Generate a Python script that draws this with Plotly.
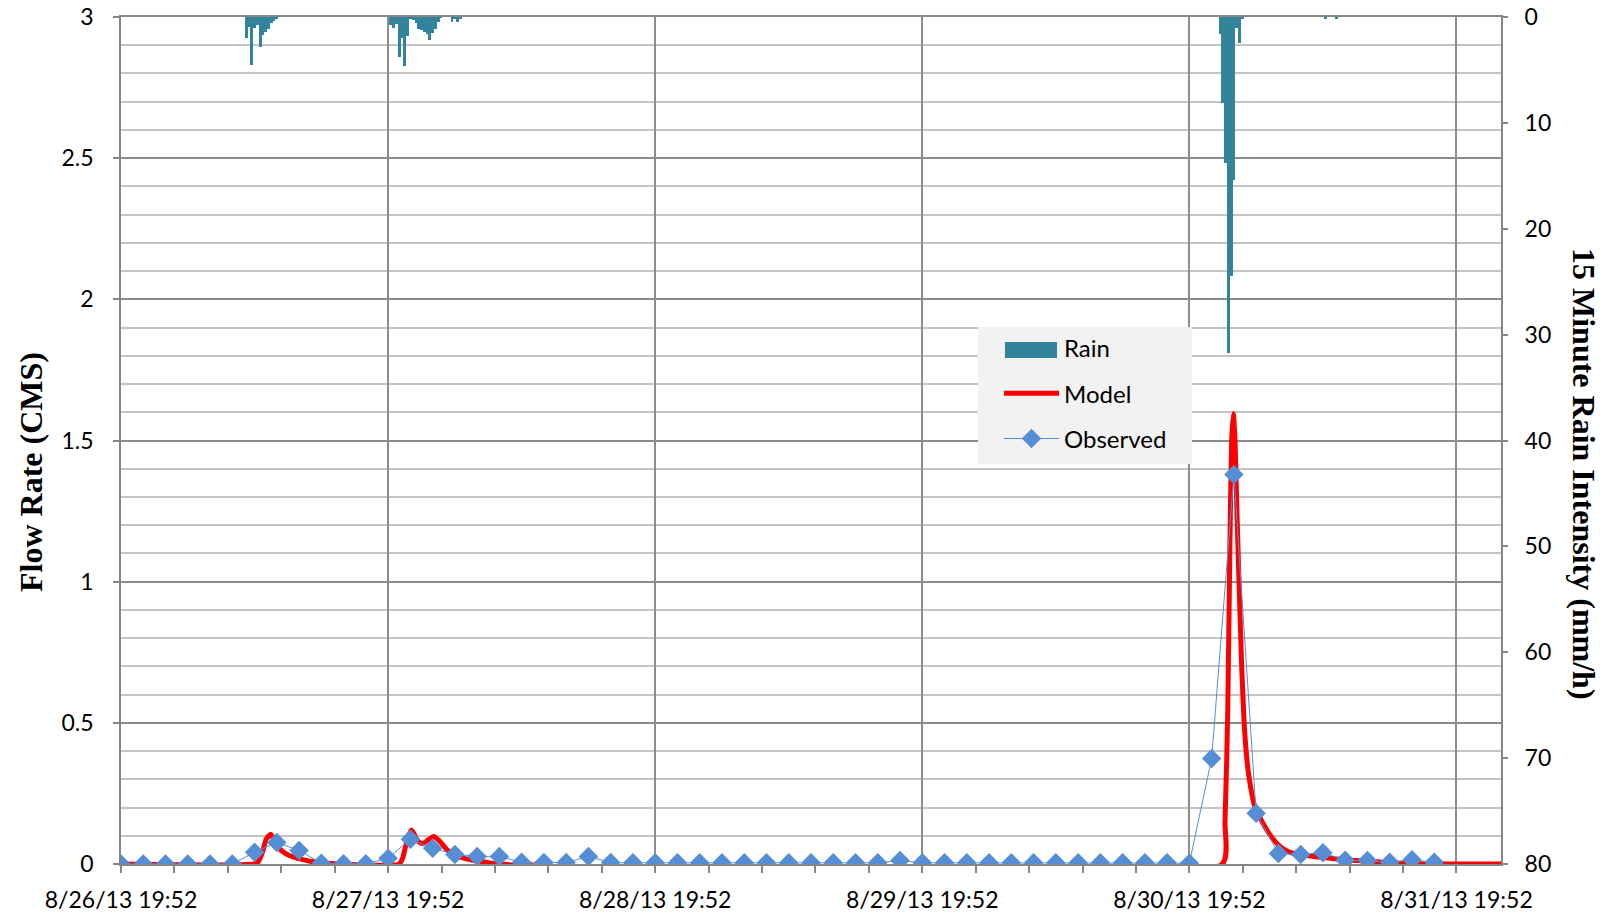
import plotly.graph_objects as go
from datetime import datetime, timedelta

# ---------------- data ----------------
start = datetime(2013, 8, 26, 19, 52)
span_hours = 124

# Observed flow (CMS), one sample every 2 hours from the start
obs_step_h = 2
obs_flow = [0, 0, 0, 0, 0, 0, 0.042, 0.076, 0.048, 0.003,
            0.001, 0.001, 0.02, 0.088, 0.056, 0.034, 0.027, 0.027, 0.006, 0.005,
            0.005, 0.027, 0.005, 0.004, 0.004, 0.004, 0.004, 0.004, 0.004, 0.004,
            0.004, 0.004, 0.004, 0.004, 0.004, 0.012, 0.004, 0.004, 0.004, 0.004,
            0.004, 0.004, 0.004, 0.004, 0.004, 0.004, 0.004, 0.004, 0.003, 0.374,
            1.38, 0.18, 0.037, 0.034, 0.04, 0.013, 0.012, 0.006, 0.015, 0.006]

# Modelled flow (CMS): hours after start, value
model_hours = [0, 12.0, 12.3, 12.7, 13.05, 13.45, 13.8, 14.2, 14.8, 15.4, 16.1, 17.0, 18.4, 19.8,
               25.0, 25.3, 25.75, 26.1, 26.7, 27.1, 27.6, 28.1, 28.7, 29.3, 30.1, 31.0, 31.9, 32.8, 33.8,
               98.95, 99.2, 99.45, 99.63, 99.8, 99.95, 100.1, 100.27, 100.5, 100.7, 101.0, 101.35,
               101.9, 102.4, 103.3, 104.2, 105.1, 106.9, 108.7, 110.5, 112.3, 113.7, 115.2, 124]
model_flow = [0, 0, 0.006, 0.04, 0.088, 0.105, 0.085, 0.055, 0.037, 0.026, 0.018, 0.01, 0.004, 0,
              0, 0.02, 0.09, 0.12, 0.08, 0.073, 0.085, 0.097, 0.078, 0.05, 0.03, 0.018, 0.012, 0.006, 0,
              0, 0.15, 0.55, 1.1, 1.5, 1.595, 1.5, 1.25, 0.95, 0.7, 0.45, 0.31,
              0.2, 0.16, 0.1, 0.06, 0.04, 0.028, 0.02, 0.013, 0.01, 0.005, 0.002, 0]

# 15-minute rain intensity (mm/h), events given as start hour + consecutive values
rain_step_min = 15
rain_events = [
    (11.25, [1.94, 0.93, 4.55, 1.0, 0.8, 2.88, 1.72, 1.4, 1.09, 0.61, 0.36, 0.14]),
    (24.25, [0.8, 1.0, 0.65, 3.77, 2.03, 4.65, 1.8, 0.14, 0.3, 0.55, 1.1, 1.2, 1.4, 1.6,
             2.2, 1.55, 1.1, 0.45, 0.05, 0, 0, 0, 0.45, 0.14, 0.45, 0.2]),
    (98.75, [1.65, 8.1, 13.8, 31.7, 24.5, 15.4, 1.0, 2.44, 0.1]),
    (108.25, [0.15]),
    (109.25, [0.12]),
]

y_ticks_left = [0, 0.5, 1, 1.5, 2, 2.5, 3]
y_ticks_right = [0, 10, 20, 30, 40, 50, 60, 70, 80]

# ---------------- build ----------------
def t(h):
    return start + timedelta(hours=h)

obs_x = [t(i * obs_step_h) for i in range(len(obs_flow))]
model_x = [t(h) for h in model_hours]
rain_x, rain_y = [], []
for h0, vals in rain_events:
    for k, v in enumerate(vals):
        rain_x.append(t(h0 + k * rain_step_min / 60))
        rain_y.append(v)

RAIN_C = '#31849b'
OBS_C = '#558ed5'
SANS = 'Lato, Open Sans, sans-serif'
TICK_FONT = dict(family=SANS, size=23, color='black')

# the page's body margin is removed (post_script), so figure == window
W, H = 1616, 922
ML, MR, MT, MB = 121, 115, 17, 58
PW, PH = W - ML - MR, H - MT - MB

def px_x(x):  # page pixel -> paper
    return (x - ML) / PW

def px_y(y):
    return (H - MB - y) / PH

fig = go.Figure()
fig.add_trace(go.Bar(x=rain_x, y=rain_y, width=rain_step_min * 60 * 1000,
                     marker=dict(color=RAIN_C, line=dict(width=0)),
                     yaxis='y2', name='Rain', showlegend=False, legendgroup='a'))
# legend entry for Rain (its wide swatch is drawn as a shape below)
fig.add_trace(go.Scatter(x=[None], y=[None], mode='lines', yaxis='y2',
                         line=dict(color='rgba(0,0,0,0)', width=10), name='Rain', legendgroup='a'))
fig.add_trace(go.Scatter(x=model_x, y=model_flow, mode='lines', name='Model',
                         line=dict(color='#ff0000', width=5, shape='spline', smoothing=0.6),
                         legendgroup='b'))
fig.add_trace(go.Scatter(x=obs_x, y=obs_flow, mode='lines+markers', name='Observed',
                         line=dict(color=OBS_C, width=1),
                         marker=dict(symbol='diamond', size=15, color=OBS_C),
                         legendgroup='c'))

day_ms = 86400000
fig.update_layout(
    width=W, height=H,
    margin=dict(l=ML, r=MR, t=MT, b=MB, autoexpand=False),
    plot_bgcolor='white', paper_bgcolor='white',
    showlegend=True,
    legend=dict(x=px_x(999), y=px_y(326), xanchor='left', yanchor='top',
                bgcolor='rgba(0,0,0,0)', font=dict(family=SANS, size=24, color='black'),
                traceorder='grouped', tracegroupgap=11, itemwidth=55,
                borderwidth=0),
    xaxis=dict(type='date', range=[start, t(span_hours)], automargin=False,
               ticklabeloverflow='allow',
               tick0=start, dtick=day_ms, tickformat='%-m/%-d/%y %H:%M',
               tickfont=TICK_FONT, ticks='outside', ticklen=7, tickcolor='#868686', tickwidth=1.5,
               ticklabelstandoff=8,
               showgrid=True, gridcolor='#8c8c8c', gridwidth=1.5,
               showline=True, linecolor='#868686', linewidth=1.5, mirror=True,
               minor=dict(tick0=start, dtick=day_ms / 5, ticks='outside', ticklen=7,
                          tickcolor='#868686', tickwidth=1.5, showgrid=False),
               zeroline=False),
    yaxis=dict(range=[0, 3], tickvals=y_ticks_left, ticktext=[f'{v:g}' for v in y_ticks_left],
               automargin=False, ticklabeloverflow='allow',
               tickfont=TICK_FONT, ticks='outside', ticklen=6, tickcolor='#868686', tickwidth=1.5,
               showgrid=True, gridcolor='#8c8c8c', gridwidth=1.5,
               minor=dict(dtick=0.1, showgrid=True, gridcolor='#c4c4c4', gridwidth=1.5),
               showline=True, linecolor='#868686', linewidth=1.5, mirror=True,
               zeroline=False, ticklabelstandoff=15),
    yaxis2=dict(range=[80, 0], overlaying='y', side='right', tickvals=y_ticks_right,
                automargin=False, ticklabeloverflow='allow',
                tickfont=TICK_FONT, ticks='outside', ticklen=6, tickcolor='#868686', tickwidth=1.5,
                showgrid=False, zeroline=False, showline=False, ticklabelstandoff=12),
    bargap=0,
    shapes=[
        dict(type='rect', xref='paper', yref='paper', layer='above',
             x0=px_x(978), x1=px_x(1192), y0=px_y(464), y1=px_y(327),
             fillcolor='#f2f2f2', line=dict(width=0)),
        dict(type='rect', xref='paper', yref='paper', layer='above',
             x0=px_x(1005), x1=px_x(1057), y0=px_y(358), y1=px_y(342),
             fillcolor=RAIN_C, line=dict(width=0)),
    ],
)

fig.add_annotation(text='<b>Flow Rate (CMS)</b>', xref='paper', yref='paper',
                   x=px_x(31), y=px_y(472), xanchor='center', yanchor='middle', textangle=-90,
                   showarrow=False, font=dict(family='Liberation Serif', size=32, color='black'))
fig.add_annotation(text='<b>15 Minute Rain Intensity (mm/h)</b>', xref='paper', yref='paper',
                   x=px_x(1584), y=px_y(474), xanchor='center', yanchor='middle', textangle=90,
                   showarrow=False, font=dict(family='Liberation Serif', size=32, color='black'))

fig.write_html('out.html', config={'displayModeBar': False},
               post_script="document.body.style.margin='0';document.body.style.overflow='hidden';")
